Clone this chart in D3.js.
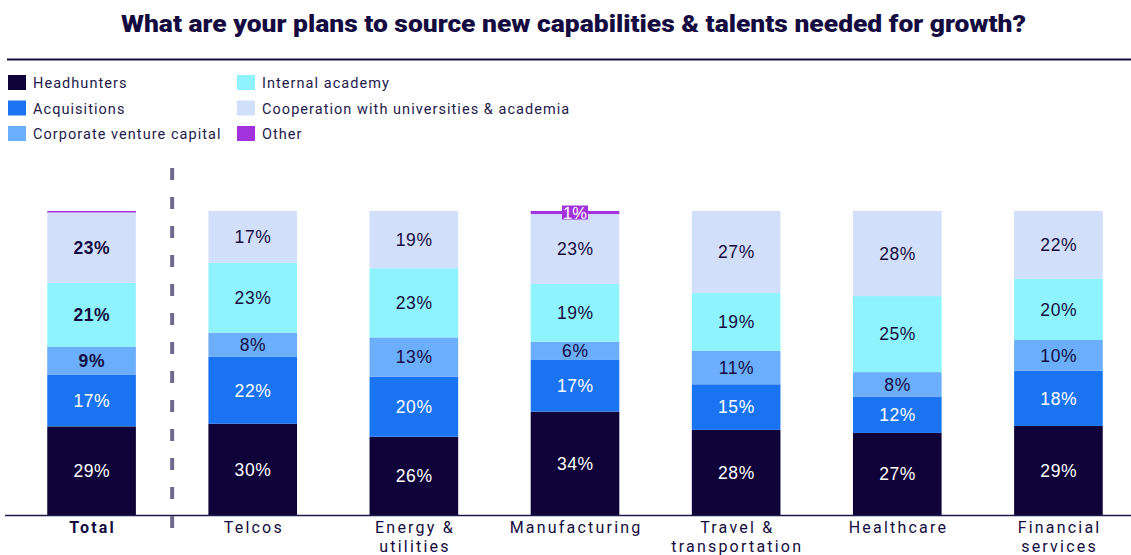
<!DOCTYPE html>
<html>
<head>
<meta charset="utf-8">
<script src="https://cdn.jsdelivr.net/npm/d3@7/dist/d3.min.js"></script>
<style>
  html, body { margin: 0; padding: 0; background: #ffffff; }
  svg { display: block; }
</style>
</head>
<body>
<svg id="chart" width="1131" height="555"></svg>
<script>
// Survey sectors, shown as 100% stacked columns
const categories = ["Total", "Telcos", "Energy & utilities", "Manufacturing", "Travel & transportation", "Healthcare", "Financial services"];
const categoryLines = [["Total"], ["Telcos"], ["Energy &", "utilities"], ["Manufacturing"], ["Travel &", "transportation"], ["Healthcare"], ["Financial", "services"]];

const seriesNames = ["Headhunters", "Acquisitions", "Corporate venture capital", "Internal academy", "Cooperation with universities & academia", "Other"];
const headhunters  = [29, 30, 26, 34, 28, 27, 29];
const acquisitions = [17, 22, 20, 17, 15, 12, 18];
const corporateVC  = [9, 8, 13, 6, 11, 8, 10];
const internalAcad = [21, 23, 23, 19, 19, 25, 20];
const cooperation  = [23, 17, 19, 23, 27, 28, 22];
const other        = [0.5, 0, 0, 1, 0, 0, 0];

const seriesColors = ["#0e0238", "#1a73f0", "#6aaefc", "#8ff3fd", "#d1dffa", "#a232dc"];
const labelColors  = ["#ffffff", "#ffffff", "#140c40", "#140c40", "#140c40", "#ffffff"];
const ink = "#140c40";

const seriesValues = [headhunters, acquisitions, corporateVC, internalAcad, cooperation, other];
const rows = categories.map((c, i) => {
  const r = { category: c, index: i };
  seriesNames.forEach((s, k) => { r[s] = seriesValues[k][i]; });
  return r;
});

const svg = d3.select("#chart");
const font = "Roboto, 'Liberation Sans', sans-serif";
const numFont = "'Liberation Sans', Arial, sans-serif";

// Title and rule beneath it
svg.append("text")
  .attr("x", 121).attr("y", 31.5)
  .attr("font-family", font)
  .attr("font-weight", 900)
  .attr("font-size", 23)
  .attr("textLength", 905)
  .attr("lengthAdjust", "spacingAndGlyphs")
  .attr("fill", ink)
  .text("What are your plans to source new capabilities & talents needed for growth?");
svg.append("line")
  .attr("x1", 7).attr("x2", 1131).attr("y1", 59.5).attr("y2", 59.5)
  .attr("stroke", ink).attr("stroke-width", 2);

// Legend in two columns
const legend = svg.append("g");
seriesNames.forEach((name, k) => {
  const col = Math.floor(k / 3), row = k % 3;
  const gx = col === 0 ? 8 : 237;
  const gy = 75 + row * 25.5;
  legend.append("rect")
    .attr("x", gx).attr("y", gy).attr("width", 18).attr("height", 15)
    .attr("fill", seriesColors[k]);
  legend.append("text")
    .attr("x", gx + 25).attr("y", gy + 13)
    .attr("font-family", font).attr("font-size", 14.5)
    .attr("letter-spacing", 1.05)
    .attr("fill", "#1e1a4a")
    .text(name);
});

// Scales
const x = d3.scaleBand().domain(categories).range([11, 1139]).paddingInner(0.45).paddingOuter(0.225);
const y = d3.scaleLinear().domain([0, 1]).range([515, 211]);

const stack = d3.stack().keys(seriesNames).offset(d3.stackOffsetExpand);
const layers = stack(rows);

const bars = svg.append("g");
layers.forEach((layer, k) => {
  bars.selectAll(null)
    .data(layer)
    .join("rect")
    .attr("x", d => x(d.data.category))
    .attr("width", x.bandwidth())
    .attr("y", d => y(d[1]))
    .attr("height", d => Math.max(0, y(d[0]) - y(d[1])))
    .attr("fill", seriesColors[k]);
});

// Value labels inside segments
layers.forEach((layer, k) => {
  const key = layer.key;
  layer.forEach(d => {
    const v = d.data[key];
    if (v < 1) return;
    const cx = x(d.data.category) + x.bandwidth() / 2;
    if (key === "Other") {
      const mid = (y(d[0]) + y(d[1])) / 2;
      bars.append("rect")
        .attr("x", cx - 13).attr("y", mid - 7)
        .attr("width", 26).attr("height", 14)
        .attr("fill", seriesColors[k]);
      bars.append("text")
        .attr("x", cx).attr("y", mid + 6)
        .attr("text-anchor", "middle")
        .attr("font-family", numFont)
        .attr("font-size", 16.5)
        .attr("fill", "#ffffff")
        .text(v + "%");
      return;
    }
    const cy = (y(d[0]) + y(d[1])) / 2;
    const bold = d.data.index === 0 && labelColors[k] !== "#ffffff";
    bars.append("text")
      .attr("x", cx + 0.3).attr("y", cy + 6.3)
      .attr("text-anchor", "middle")
      .attr("font-family", numFont)
      .attr("font-size", 17.5)
      .attr("letter-spacing", 0.6)
      .attr("font-weight", bold ? 700 : 400)
      .attr("fill", labelColors[k])
      .text(v + "%");
  });
});

// Baseline
svg.append("line")
  .attr("x1", 5).attr("x2", 1131).attr("y1", 515.5).attr("y2", 515.5)
  .attr("stroke", "#1e1a4a").attr("stroke-width", 1.5);

// Category labels
const xAxis = svg.append("g");
categories.forEach((c, i) => {
  const cx = x(c) + x.bandwidth() / 2 + 1.1;
  const t = xAxis.append("text")
    .attr("x", cx)
    .attr("y", 533)
    .attr("text-anchor", "middle")
    .attr("font-family", font)
    .attr("font-size", 16)
    .attr("font-weight", i === 0 ? 700 : 400)
    .attr("letter-spacing", 2.2)
    .attr("fill", ink);
  categoryLines[i].forEach((line, j) => {
    t.append("tspan").attr("x", cx).attr("dy", j === 0 ? 0 : 19).text(line);
  });
});

// Separator between Total and the sectors
const sepX = (x("Total") + x.bandwidth() + x("Telcos")) / 2;
svg.append("line")
  .attr("x1", sepX).attr("x2", sepX).attr("y1", 168).attr("y2", 532)
  .attr("stroke", "#6e6a8e").attr("stroke-width", 4)
  .attr("stroke-dasharray", "12,17");
</script>
</body>
</html>
